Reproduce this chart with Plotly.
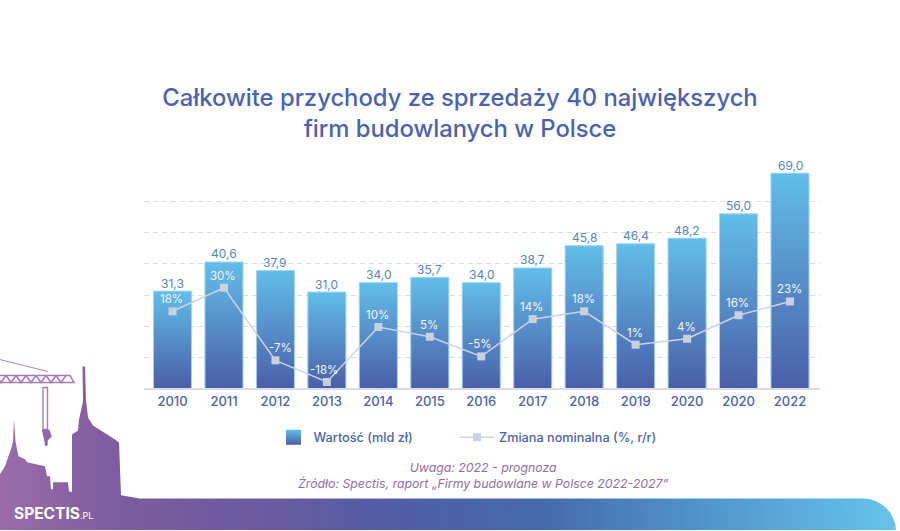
import base64
import plotly.graph_objects as go

labels = ["2010","2011","2012","2013","2014","2015","2016","2017","2018","2019","2020","2020","2022"]
values = [31.3,40.6,37.9,31.0,34.0,35.7,34.0,38.7,45.8,46.4,48.2,56.0,69.0]
change = [18,30,-7,-18,10,5,-5,14,18,1,4,16,23]

TITLE = "Całkowite przychody ze sprzedaży 40 największych<br>firm budowlanych w Polsce"
BLUE = "#4a63ad"; LABEL = "#5585bd"; GRID = "#d7dcea"; PURPLE = "#8f6cab"
FONT = "Inter"

W, H = 900, 531
L, R, T, B = 144, 820, 170, 389.5
PW, PH = R - L, B - T

def px(x): return (x - L) / PW
def py(y): return (B - y) / PH

def mix(a, b, t):
    return tuple(round(a[i] + (b[i] - a[i]) * t) for i in range(3))

TOP = (98, 190, 232); BOT = (74, 94, 168)
xs = list(range(len(labels)))
fig = go.Figure()
N = 48
for i in range(N):
    c = mix(BOT, TOP, (i + 0.5) / N)
    k = 2.0 if i < N - 1 else 1.0
    fig.add_trace(go.Bar(x=xs, y=[v / N * k for v in values], base=[v * i / N for v in values],
                         marker=dict(color=f"rgb{c}", line=dict(width=0)), showlegend=False,
                         hoverinfo="skip", width=0.74, offsetgroup="a"))
fig.add_trace(go.Bar(x=xs, y=values,
                     marker=dict(color="rgba(0,0,0,0)", line=dict(width=1, color="#a6d6ef")),
                     width=0.74, offsetgroup="a", showlegend=False))
fig.add_trace(go.Scatter(x=[None], y=[None], mode="markers", name="Wartość (mld zł)", legend="legend",
                         marker=dict(symbol="square", size=15, color="#62bee8",
                                     gradient=dict(type="vertical", color="#4a5ea8"))))
fig.add_trace(go.Scatter(x=xs, y=change, yaxis="y2", mode="lines+markers", name="Zmiana nominalna (%, r/r)",
                         legend="legend2", cliponaxis=False, line=dict(color="#ccd3e2", width=1.5),
                         marker=dict(symbol="square", size=8, color="#c9d0df")))

band = ("M0 531V475L5 467L8 458L11 450L13 442L14 420L15.5 442L17 450L18.5 457L25 460L27 463L45 467"
        "L47 477L50 477L51 490L53 490L53 483L68 483L69 492L72 493L72 435L78 431L79 420L83 402L82.5 367"
        "L85 367L86 400L88 418L93 426L115 440L119 443L121 496L140 499.3H863A33 33 0 0 1 896 531Z")
crane = ("".join(f'<path d="M{x} 376L{x+5} 383L{x+10} 376" fill="none" stroke="#a67db8" stroke-width="1.6"/>' for x in range(-4, 66, 10)))
svg = f'''<svg xmlns="http://www.w3.org/2000/svg" width="{W}" height="{H}" viewBox="0 0 {W} {H}">
<defs><linearGradient id="g" gradientUnits="userSpaceOnUse" x1="0" y1="0" x2="896" y2="0">
<stop offset="0" stop-color="#9a6ca9"/><stop offset=".14" stop-color="#7b5b9f"/>
<stop offset=".32" stop-color="#675a9f"/><stop offset=".45" stop-color="#4e5ea6"/>
<stop offset=".6" stop-color="#4668ad"/><stop offset=".77" stop-color="#4f91c9"/><stop offset="1" stop-color="#66c3eb"/>
</linearGradient></defs>
<path d="{band}" fill="url(#g)"/>
<path d="M0 360L48 372" stroke="#a67db8" stroke-width="1"/>
<path d="M0 376H70L74 383H0" fill="none" stroke="#a67db8" stroke-width="1.6"/>
{crane}
<path d="M43 388H47.5V430H43Z" fill="none" stroke="#a67db8" stroke-width="1.4"/>
<path d="M42 431H49L51 437L47 441V443C48 447 45 446 45 445" fill="#8f65a8" stroke="#8f65a8" stroke-width="1.3"/>
</svg>'''
uri = "data:image/svg+xml;base64," + base64.b64encode(svg.encode()).decode()

annotations = [
    dict(text="Uwaga: 2022 - prognoza<br>Źródło: Spectis, raport „Firmy budowlane w Polsce 2022-2027”",
         xref="paper", yref="paper", x=px(483), y=py(476.5), xanchor="center", yanchor="middle", showarrow=False,
         font=dict(family=FONT, size=12.3, color=PURPLE, style="italic")),
    dict(text="<b>SPECTIS</b><span style='font-size:9px'>.PL</span>", xref="paper", yref="paper",
         x=px(12), y=py(514), xanchor="left", yanchor="middle", showarrow=False,
         font=dict(family=FONT, size=15.5, color="white")),
]
for x, v in zip(xs, values):
    annotations.append(dict(text=f"{v:.1f}".replace(".", ","), x=x, y=v, xref="x", yref="y", showarrow=False,
                            yshift=8, yanchor="middle", font=dict(family=FONT, size=12, color=LABEL)))
nudge = {2: 5, 3: -3}
for x, v in zip(xs, change):
    annotations.append(dict(text=f"{v}%", x=x, y=v, xref="x", yref="y2", showarrow=False,
                            yshift=12, xshift=nudge.get(x, -1), yanchor="middle",
                            font=dict(family=FONT, size=11.5, color="#f2f6fb")))

legend_font = dict(family=FONT, size=12.7, color=BLUE, weight=500)
fig.update_layout(
    width=W, height=H, autosize=False,
    margin=dict(l=L, r=W - R, t=T, b=H - B, pad=0),
    paper_bgcolor="white", plot_bgcolor="white", barmode="overlay", bargap=0.26,
    font=dict(family=FONT, color=BLUE),
    title=dict(text=TITLE, x=460 / W, xanchor="center", y=1 - 106 / H, yanchor="middle",
               font=dict(family=FONT, size=23.8, color=BLUE, weight=500)),
    xaxis=dict(range=[-0.554, 12.583], tickmode="array", tickvals=xs, ticktext=labels, showgrid=False,
               tickfont=dict(family=FONT, size=13, color=BLUE, weight=500), ticks="", ticklen=0,
               ticklabelstandoff=3, zeroline=False, showline=False, fixedrange=True),
    yaxis=dict(range=[0, 70], tickvals=[0,10,20,30,40,50,60,70], showticklabels=False, gridcolor=GRID,
               griddash="5px,4px", gridwidth=1, zeroline=False, ticks="", fixedrange=True),
    yaxis2=dict(range=[-21.6, 90], overlaying="y", visible=False, fixedrange=True),
    legend=dict(orientation="h", x=px(273.5), xanchor="left", y=py(438), yanchor="middle",
                font=legend_font, itemwidth=30, bgcolor="rgba(0,0,0,0)"),
    legend2=dict(orientation="h", x=px(455), xanchor="left", y=py(438), yanchor="middle",
                 font=legend_font, itemwidth=34, bgcolor="rgba(0,0,0,0)"),
    images=[dict(source=uri, xref="paper", yref="paper", x=px(0), y=py(0), sizex=W / PW, sizey=H / PH,
                 xanchor="left", yanchor="top", sizing="stretch", layer="below")],
    shapes=[dict(type="line", xref="paper", yref="paper", x0=0, x1=1, y0=0, y1=0, line=dict(color=GRID, width=2))],
    annotations=annotations,
)
fig.write_html("out.html", config=dict(displayModeBar=False),
               post_script="document.body.style.margin='0';document.documentElement.style.overflow='hidden';")
